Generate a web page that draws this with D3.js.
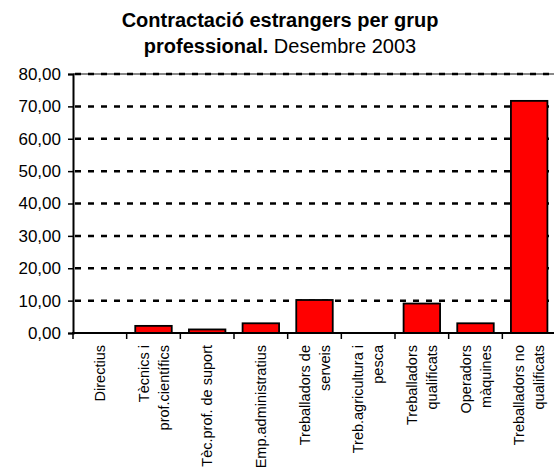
<!DOCTYPE html>
<html lang="ca">
<head>
<meta charset="utf-8">
<title>Contractació estrangers per grup professional</title>
<script src="https://d3js.org/d3.v7.min.js"></script>
<style>
body {
	margin: 0;
	background-color: white;
	font-family: "Liberation Sans", Arial, sans-serif;
}
svg { display: block; }
.grid line {
	stroke: #000;
	stroke-width: 2.5px;
	stroke-dasharray: 6, 7;
}
</style>
</head>
<body>
<script>

// data
var categories = [
	["Directius"],
	["Tècnics i", "prof.científics"],
	["Tèc.prof. de suport"],
	["Emp.administratius"],
	["Treballadors de", "serveis"],
	["Treb.agricultura i", "pesca"],
	["Treballadors", "qualificats"],
	["Operadors", "màquines"],
	["Treballadors no", "qualificats"]
];
var values = [0, 2.2, 1.1, 3.0, 10.2, 0, 9.1, 3.0, 71.7];
var yTicks = [0, 10, 20, 30, 40, 50, 60, 70, 80];

var width = 554;
var height = 472;

var plotLeft = 73, plotRight = 556, plotTop = 74, plotBottom = 333;

var svg = d3.select("body").append("svg")
	.attr("width", width)
	.attr("height", height);

var x = d3.scaleBand()
	.domain(d3.range(categories.length))
	.range([plotLeft, plotRight])
	.paddingInner(0.32)
	.paddingOuter(0.16);

var y = d3.scaleLinear()
	.domain([0, 80])
	.range([plotBottom, plotTop]);

// title
var title = svg.append("text")
	.attr("text-anchor", "middle")
	.style("font-size", "20px")
	.attr("fill", "#000");
title.append("tspan")
	.attr("x", 280).attr("y", 27)
	.style("font-weight", "bold")
	.text("Contractació estrangers per grup");
var t2 = title.append("tspan")
	.attr("x", 280).attr("y", 53);
t2.append("tspan").style("font-weight", "bold").text("professional.");
t2.append("tspan").text(" Desembre 2003");

// plot area top border
svg.append("line")
	.attr("x1", plotLeft).attr("x2", width)
	.attr("y1", y(80)).attr("y2", y(80))
	.attr("stroke", "#888")
	.attr("stroke-width", 2);

// gridlines
svg.append("g")
	.attr("class", "grid")
	.selectAll("line")
	.data(yTicks.filter(function(d) { return d > 0; }))
	.enter().append("line")
	.attr("x1", plotLeft + 2).attr("x2", width)
	.attr("y1", function(d) { return y(d); })
	.attr("y2", function(d) { return y(d); });

// bars
svg.append("g")
	.selectAll("rect")
	.data(values)
	.enter().append("rect")
	.attr("x", function(d, i) { return x(i); })
	.attr("width", x.bandwidth())
	.attr("y", function(d) { return y(d); })
	.attr("height", function(d) { return d > 0 ? y(0) - y(d) : 0; })
	.attr("fill", "#ff0000")
	.attr("stroke", "#000")
	.attr("stroke-width", 1.8);

// y axis
var yAxis = svg.append("g")
	.attr("transform", "translate(" + plotLeft + ",0)")
	.call(d3.axisLeft(y).tickValues(yTicks).tickSize(5).tickPadding(7)
		.tickFormat(function(d) { return d3.format(".2f")(d).replace(".", ","); }));
yAxis.select(".domain").attr("stroke", "#000").attr("stroke-width", 2);
yAxis.selectAll(".tick line").attr("stroke", "#000").attr("stroke-width", 1.5);
yAxis.selectAll("text")
	.style("font-family", "'Liberation Sans', Arial, sans-serif")
	.style("font-size", "17px")
	.attr("fill", "#000");

// x axis line and ticks between categories
var step = x.step();
var bounds = d3.range(categories.length + 1).map(function(i) { return plotLeft + i * step; });
svg.append("line")
	.attr("x1", plotLeft - 1).attr("x2", width)
	.attr("y1", plotBottom).attr("y2", plotBottom)
	.attr("stroke", "#000").attr("stroke-width", 2);
svg.append("g")
	.selectAll("line")
	.data(bounds)
	.enter().append("line")
	.attr("x1", function(d) { return d; })
	.attr("x2", function(d) { return d; })
	.attr("y1", plotBottom).attr("y2", plotBottom + 6)
	.attr("stroke", "#000").attr("stroke-width", 1.5);

// category labels, rotated
var labels = svg.append("g")
	.selectAll("text")
	.data(categories)
	.enter().append("text")
	.attr("transform", function(d, i) {
		var cx = x(i) + x.bandwidth() / 2;
		return "translate(" + cx + ",345) rotate(-90)";
	})
	.attr("text-anchor", "end")
	.style("font-size", "14.5px")
	.attr("fill", "#000");

labels.each(function(d) {
	var sel = d3.select(this);
	var n = d.length;
	d.forEach(function(line, j) {
		sel.append("tspan")
			.attr("x", 0)
			.attr("y", (j - (n - 1) / 2) * 20 + 5)
			.text(line);
	});
});

</script>
</body>
</html>
